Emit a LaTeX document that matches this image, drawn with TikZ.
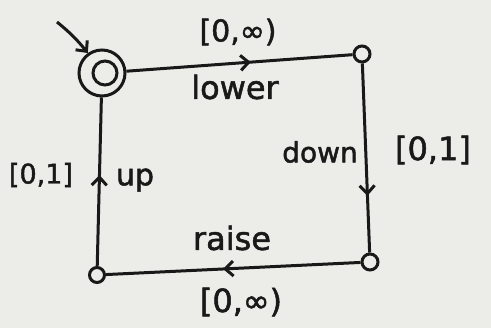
\documentclass[tikz,border=0pt]{standalone}
\usepackage{fontspec}
\setmainfont[FakeBold=1.6]{DejaVu Sans}
\usetikzlibrary{arrows.meta,decorations.markings}
\definecolor{ink}{RGB}{25,25,25}
\definecolor{paper}{RGB}{236,236,232}
\begin{document}
\begin{tikzpicture}[x=1pt,y=-1pt,
  state/.style={circle,draw=ink,line width=3pt,minimum size=16pt,inner sep=0pt},
  edge/.style={draw=ink,line width=3pt},
  lbl/.style={text=ink,inner sep=0pt},
  barb/.tip={Straight Barb[length=8pt,width=15pt]},
  midarrow/.style={postaction={decorate},decoration={markings,mark=at position #1 with {\arrow{barb}}}}
]
\fill[paper] (0,0) rectangle (491,328);
\useasboundingbox (0,0) rectangle (491,328);

\node[state,minimum size=46pt] (A) at (102,73) {};
\node[state,minimum size=24pt] (Ai) at (105,73) {};
\node[state] (B) at (362,54) {};
\node[state] (C) at (370,262) {};
\node[state,minimum size=15pt] (D) at (97,275) {};
\coordinate (init) at (57,22);

\draw[edge,midarrow=0.55] (A) -- (B);
\draw[edge,midarrow=0.7] (B) -- (C);
\draw[edge,midarrow=0.54] (C) -- (D);
\draw[edge,midarrow=0.54] (D) -- (A);
\draw[edge,-barb] (init) to[bend left=6] (A);

\node[lbl,font=\fontsize{30}{30}\selectfont] (t1) at (238,32) {[0,∞)};
\node[lbl,font=\fontsize{32}{32}\selectfont] (t2) at (235,87) {lower};
\node[lbl,font=\fontsize{28}{28}\selectfont] (t3) at (320,152) {down};
\node[lbl,font=\fontsize{32}{32}\selectfont] (t4) at (433,150) {[0,1]};
\node[lbl,font=\fontsize{30}{30}\selectfont] (t5) at (135,180) {up};
\node[lbl,font=\fontsize{27}{27}\selectfont] (t6) at (41,175) {[0,1]};
\node[lbl,font=\fontsize{32}{32}\selectfont] (t7) at (232,238) {raise};
\node[lbl,font=\fontsize{32}{32}\selectfont] (t8) at (241,302) {[0,∞)};
\end{tikzpicture}
\end{document}
